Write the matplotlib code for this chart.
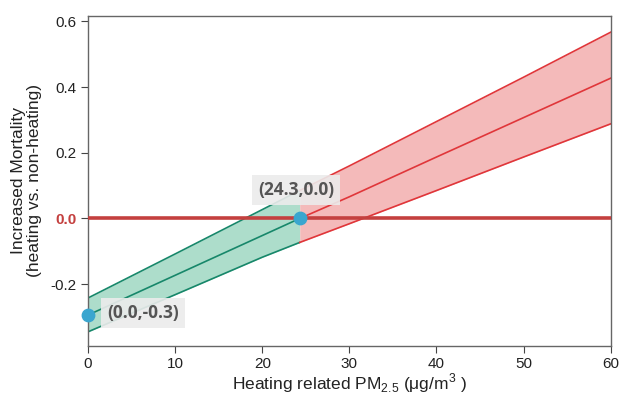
import matplotlib.pyplot as plt
import numpy as np

# values
pm = [0, 10, 20, 24.3, 30, 40, 50, 60]
center = [-0.294, -0.173, -0.052, 0.0, 0.066, 0.187, 0.307, 0.427]
upper = [-0.242, -0.108, 0.027, 0.085, 0.16, 0.295, 0.43, 0.567]
lower = [-0.345, -0.232, -0.118, -0.073, -0.016, 0.085, 0.187, 0.288]
split = 24.3
points = [(0.0, -0.294), (24.3, 0.0)]
point_labels = ['(0.0,-0.3)', '(24.3,0.0)']

plt.rcParams['font.family'] = ['Liberation Sans', 'DejaVu Sans']

x = np.array(pm)
c = np.array(center)
u = np.array(upper)
l = np.array(lower)
left = x <= split
right = x >= split

fig = plt.figure(figsize=(6.2, 3.94), dpi=100)
ax = fig.add_axes([0.142, 0.122, 0.843, 0.838])

# green part (below threshold)
ax.fill_between(x[left], l[left], u[left], color='#9fd8c2', alpha=0.85, lw=0)
for s in (u, c, l):
    ax.plot(x[left], s[left], color='#17876a', lw=1.2)

# red part
ax.fill_between(x[right], l[right], u[right], color='#f3b3b3', alpha=0.9, lw=0)
for s in (u, c, l):
    ax.plot(x[right], s[right], color='#e0363a', lw=1.2)

ax.axhline(0, color='#c4403f', lw=2.6, zorder=4)

px, py = zip(*points)
ax.scatter(px, py, s=80, color='#3aa6cf', zorder=6, clip_on=False)

box = dict(boxstyle='square,pad=0.35', fc='#ececec', ec='none', alpha=0.9)
ax.text(2.2, points[0][1] + 0.005, point_labels[0], fontsize=12.5, fontweight='bold',
        color='#555555', va='center', ha='left', bbox=box, zorder=5,
        family=['Open Sans', 'DejaVu Sans'])
ax.text(23.9, 0.087, point_labels[1], fontsize=12.5, fontweight='bold',
        color='#555555', va='center', ha='center', bbox=box, zorder=5,
        family=['Open Sans', 'DejaVu Sans'])

ax.set_xlim(0, 60)
ax.set_ylim(-0.388, 0.617)
ax.set_xticks([0, 10, 20, 30, 40, 50, 60])
ax.set_yticks([-0.2, 0.0, 0.2, 0.4, 0.6])
ax.set_yticklabels(['-0.2', '0.0', '0.2', '0.4', '0.6'])
ax.tick_params(labelsize=11, length=5, color='#444444', labelcolor='#222222', pad=3)
zl = ax.get_yticklabels()[1]
zl.set_color('#c4403f')
zl.set_fontweight('bold')

for sp in ax.spines.values():
    sp.set_color('#666666')
    sp.set_linewidth(1.0)

ax.set_xlabel(r'Heating related PM$_{\mathregular{2.5}}$ (μg/m$^{\mathregular{3}}$ )',
              fontsize=12.5, color='#222222', labelpad=0)
ax.set_ylabel('Increased Mortality\n(heating vs. non-heating)', fontsize=12.5,
              color='#222222', labelpad=6, linespacing=1.1)

fig.savefig('out.png', dpi=100)
